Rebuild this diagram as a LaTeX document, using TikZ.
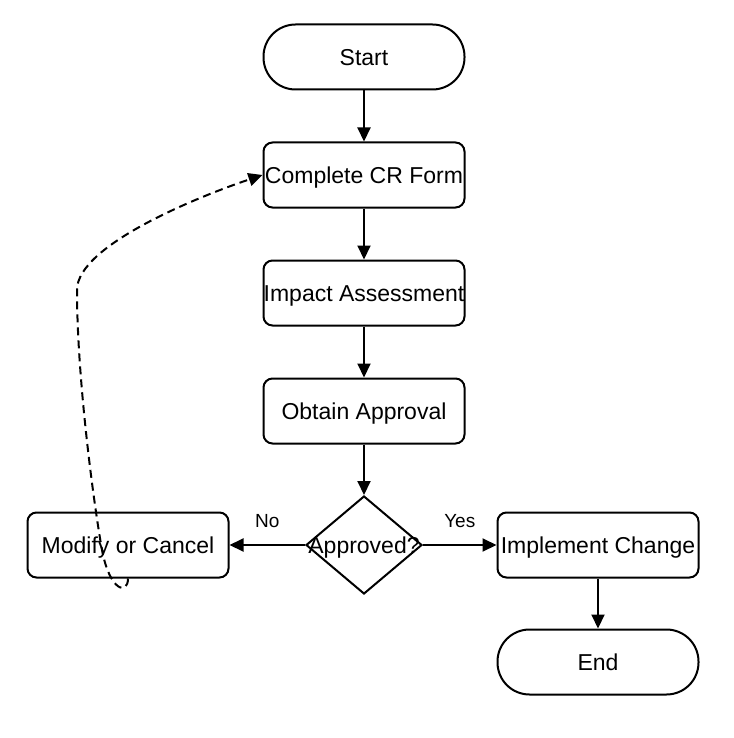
\documentclass[tikz,border=0pt]{standalone}
\usepackage{fontspec}
\setmainfont{Liberation Sans}
\usetikzlibrary{shapes.geometric,arrows.meta}

\begin{document}
\begin{tikzpicture}[x=1pt, y=-1pt, line width=2pt, >={Triangle[length=14pt,width=13pt]},
        every box/.style={draw, rounded corners=9pt, minimum width=201pt, minimum height=65pt, inner sep=0pt, text height=16.5pt, text depth=0pt, font=\fontsize{23}{27}\selectfont},
        box start/.style={rounded corners=32pt},
        box end/.style={rounded corners=32pt},
        decision/.style={draw, diamond, minimum width=116pt, minimum height=98pt, inner sep=0pt},
        answer/.style={font=\fontsize{19}{22}\selectfont, inner sep=0pt, above=16pt, midway}]

        \useasboundingbox (0,0) rectangle (733,738);

        % boxes
        \foreach \m/\l [count=\y from 0] in {start/Start, complete/Complete CR Form, impact/Impact Assessment, approval/Obtain Approval}
        \node [every box/.try, box \m/.try] (\m) at (364,57+\y*118) {\l};

        \node [decision, label={[font=\fontsize{23}{27}\selectfont, text height=16.5pt, text depth=0pt, inner sep=0pt]center:Approved?}] (approved) at (364,545) {};

        \node [every box/.try] (modify) at (128,545) {Modify or Cancel};
        \node [every box/.try] (implement) at (598,545) {Implement Change};
        \node [every box/.try, box end/.try] (end) at (598,662) {End};

        % arrows
        \foreach \a/\b in {start/complete, complete/impact, impact/approval, approval/approved, implement/end}
        \draw [->] (\a) -- (\b);

        \draw [->] (approved) -- (modify) node [answer] {No};
        \draw [->] (approved) -- (implement) node [answer] {Yes};

        % loop back
        \draw [->, dash pattern=on 8pt off 5pt] (modify.south)
        .. controls (128,595) and (110,592) .. (102,550)
        .. controls (94,505) and (77,380) .. (77,290)
        .. controls (77,245) and (200,196) .. (complete.west);

    \end{tikzpicture}
\end{document}
